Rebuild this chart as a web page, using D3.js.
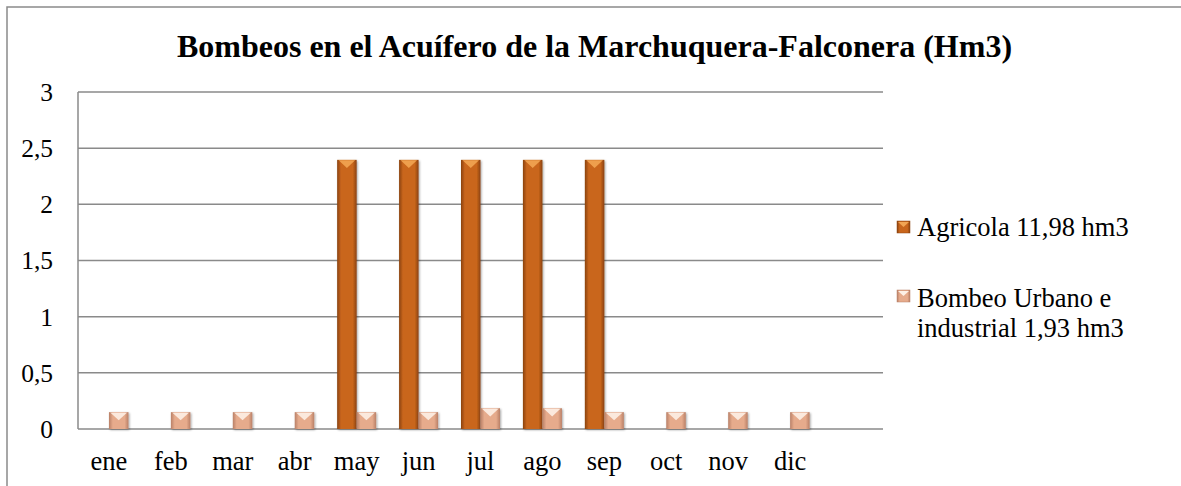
<!DOCTYPE html>
<html><head><meta charset="utf-8">
<script src="https://cdn.jsdelivr.net/npm/d3@7"></script>
<style>body{margin:0;background:#fff}svg{display:block}text{font-family:"Liberation Serif","Times New Roman","DejaVu Serif",serif;fill:#000}</style>
</head><body>
<svg id="c" width="1181" height="486"></svg>
<script>
const months = ["ene","feb","mar","abr","may","jun","jul","ago","sep","oct","nov","dic"];
const agricola = [0,0,0,0,2.396,2.396,2.396,2.396,2.396,0,0,0];
const urbano = [0.15,0.15,0.15,0.15,0.15,0.15,0.185,0.185,0.15,0.15,0.15,0.15];
const yTicks = [0,0.5,1,1.5,2,2.5,3];
const seriesNames = ["Agricola 11,98 hm3", ["Bombeo Urbano e","industrial 1,93 hm3"]];
const title = "Bombeos en el Acuífero de la Marchuquera-Falconera (Hm3)";

const svg = d3.select("#c");
const L = 78, R = 883, T = 92, B = 429;
const step = (R - L) / 13;
const x = d3.scaleBand().domain(months).range([L, L + step * 12]).padding(0);
const y = d3.scaleLinear().domain([0, 3]).range([B, T]);
const bw = 19.5;

// outer border
svg.append("rect").attr("x",7).attr("y",7).attr("width",1190).attr("height",500)
  .attr("fill","none").attr("stroke","#8a8a8a").attr("stroke-width",1.5);

const defs = svg.append("defs");
function grad(id, edge, mid) {
  const g = defs.append("linearGradient").attr("id", id).attr("x1","0").attr("x2","1").attr("y1","0").attr("y2","0");
  g.append("stop").attr("offset","0").attr("stop-color",edge);
  g.append("stop").attr("offset","0.2").attr("stop-color",mid);
  g.append("stop").attr("offset","0.8").attr("stop-color",mid);
  g.append("stop").attr("offset","1").attr("stop-color",edge);
}
grad("gA", "#8a420f", "#c9661c");
grad("gU", "#b98067", "#e6ab8c");
const f = defs.append("filter").attr("id","sh").attr("x","-30%").attr("y","-10%").attr("width","160%").attr("height","130%");
f.append("feDropShadow").attr("dx",1).attr("dy",1).attr("stdDeviation",1.2).attr("flood-color","#000").attr("flood-opacity",0.35);

// title
svg.append("text").attr("x", 594.5).attr("y", 57).attr("text-anchor","middle")
  .style("font-weight","bold").style("font-size", "32px")
  .text(title);

// gridlines
svg.append("g").selectAll("line").data(yTicks).join("line")
  .attr("x1", L).attr("x2", R).attr("y1", d => y(d)).attr("y2", d => y(d))
  .attr("stroke", "#8a8a8a").attr("stroke-width", 1.5);
// y axis line
svg.append("line").attr("x1",L).attr("x2",L).attr("y1",T).attr("y2",B).attr("stroke","#8a8a8a").attr("stroke-width",1.5);

// y tick labels
svg.append("g").selectAll("text").data(yTicks).join("text")
  .attr("x", 53).attr("y", d => y(d)).attr("dy","0.35em").attr("text-anchor","end")
  .style("font-size", "25.5px")
  .text(d => String(d).replace(".", ","));

// x labels
svg.append("g").selectAll("text").data(months).join("text")
  .attr("x", d => x(d) + x.bandwidth()/2).attr("y", 470).attr("text-anchor","middle")
  .style("font-size", "26.5px").text(d => d);

function drawBars(data, side, gid, topColor) {
  const g = svg.append("g");
  const items = months.map((m, i) => ({m, v: data[i]})).filter(d => d.v > 0);
  const bars = g.selectAll("g").data(items).join("g").attr("filter","url(#sh)");
  const bx = d => x(d.m) + x.bandwidth()/2 + (side < 0 ? -bw : 0);
  bars.append("rect").attr("x", bx).attr("y", d => y(d.v)).attr("width", bw).attr("height", d => y(0) - y(d.v))
    .attr("fill", `url(#${gid})`);
  bars.append("path").attr("d", d => {
    const x0 = bx(d), y0 = y(d.v);
    return `M${x0+1.5},${y0+0.5} L${x0+bw-1.5},${y0+0.5} L${x0+bw/2},${y0+bw*0.42} Z`;
  }).attr("fill", topColor).attr("opacity", 0.9);
}
drawBars(agricola, -1, "gA", "#f2a553");
drawBars(urbano, 1, "gU", "#fdf0e6");

// legend
const lg = svg.append("g");
lg.append("rect").attr("x",897).attr("y",221).attr("width",13).attr("height",12).attr("fill","url(#gA)").attr("stroke","#8c4410").attr("stroke-width",0.5);
lg.append("path").attr("d","M898,222 L909,222 L903.5,227 Z").attr("fill","#f2a553");
lg.append("text").attr("x",917).attr("y",236).style("font-size","26.5px").text(seriesNames[0]);
lg.append("rect").attr("x",897).attr("y",290).attr("width",13).attr("height",12).attr("fill","url(#gU)").attr("stroke","#b98067").attr("stroke-width",0.5);
lg.append("path").attr("d","M898,291 L909,291 L903.5,296 Z").attr("fill","#fdf0e6");
const t2 = lg.append("text").style("font-size","26.5px");
t2.append("tspan").attr("x",917).attr("y",307).text(seriesNames[1][0]);
t2.append("tspan").attr("x",917).attr("y",337).text(seriesNames[1][1]);
</script>
</body></html>
